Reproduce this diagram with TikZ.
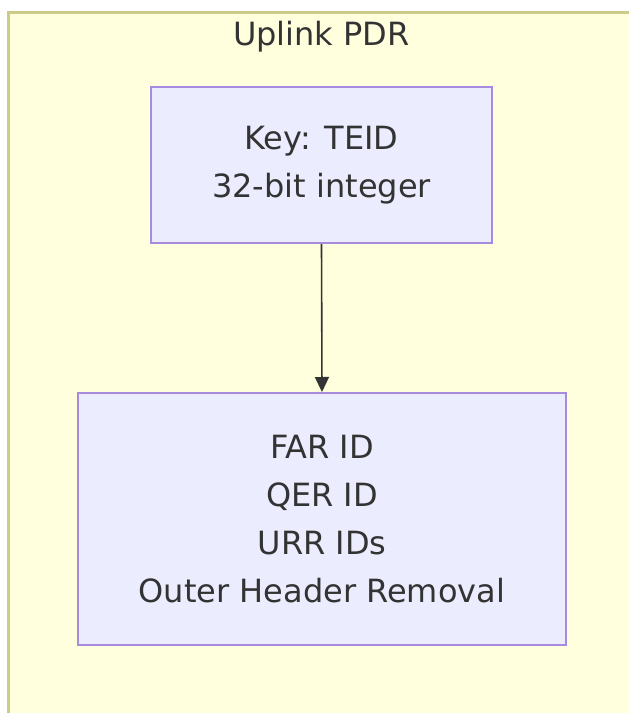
\documentclass[tikz,border=0pt]{standalone}
\usepackage{fontspec}
\setmainfont{DejaVu Sans}
\usetikzlibrary{arrows.meta}
\definecolor{clusterfill}{HTML}{FFFFDE}
\definecolor{clusterline}{HTML}{CCCC88}
\definecolor{nodefill}{HTML}{ECECFF}
\definecolor{nodeline}{HTML}{A68BE0}
\definecolor{txt}{HTML}{333333}
\tikzset{
  box/.style={draw=nodeline, fill=nodefill, line width=2pt, text=txt, align=center,
    font=\fontsize{32}{48}\selectfont, inner sep=0pt},
  link/.style={draw=txt, line width=1.6pt, -{Triangle[length=15pt,width=14pt]}},
}
\begin{document}
\begin{tikzpicture}[x=1pt,y=-1pt]
\useasboundingbox (0,0) rectangle (629,713);
\clip (0,0) rectangle (629,713);
\draw[draw=clusterline, fill=clusterfill, line width=3pt] (8.5,12.5) rectangle (660,740);
\node[text=txt, font=\fontsize{32}{48}\selectfont, anchor=base] (title) at (321.5,45) {Uplink PDR};
\node[box, minimum width=341pt, minimum height=156pt] (key) at (321.5,165) {Key: TEID\\32-bit integer};
\node[box, minimum width=488pt, minimum height=252pt] (val) at (322,519) {FAR ID\\QER ID\\URR IDs\\Outer Header Removal};
\draw[link] (key.south) -- (val.north);
\end{tikzpicture}
\end{document}
